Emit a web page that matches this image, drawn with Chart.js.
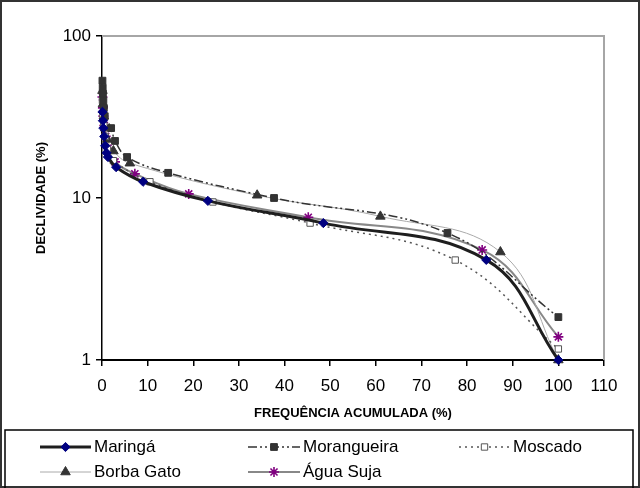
<!DOCTYPE html>
<html>
<head>
<meta charset="utf-8">
<script src="https://cdn.jsdelivr.net/npm/chart.js@4/dist/chart.umd.min.js"></script>
<style>
html,body{margin:0;padding:0;background:#fff;}
#wrap{width:640px;height:488px;position:relative;}
</style>
</head>
<body>
<div id="wrap"><canvas id="c" width="640" height="488"></canvas></div>
<script>
// ---- data ----
const seriesNames = ['Maringá', 'Morangueira', 'Moscado', 'Borba Gato', 'Água Suja'];
const xTickValues = [0, 10, 20, 30, 40, 50, 60, 70, 80, 90, 100, 110];
const yTickValues = [1, 10, 100];
const xAxisTitle = 'FREQUÊNCIA ACUMULADA (%)';
const yAxisTitle = 'DECLIVIDADE (%)';

const maringaX = [0.1, 0.2, 0.3, 0.5, 0.7, 1.0, 1.3, 3.1, 9.0, 23.2, 48.5, 84.2, 100];
const maringaY = [34, 30, 27, 24, 21, 19, 17.9, 15.5, 12.6, 9.6, 7.0, 4.15, 1.0];

const morangueiraX = [0.1, 0.15, 0.2, 0.3, 0.4, 0.6, 2.0, 2.85, 5.5, 14.5, 37.7, 75.7, 100];
const morangueiraY = [53, 48, 44, 40, 36, 32, 27, 22.5, 17.9, 14.3, 10.0, 6.08, 1.84];

const moscadoX = [0.1, 0.2, 0.4, 0.7, 1.2, 2.5, 10.5, 24.3, 45.6, 77.4, 100];
const moscadoY = [40, 33, 28, 24, 20, 17, 12.6, 9.45, 7.0, 4.14, 1.17];

const borbaX = [0.1, 0.2, 0.4, 0.7, 1.2, 2.5, 6.1, 34, 61, 87.3, 100];
const borbaY = [46, 38, 32, 27, 23, 19.5, 16.4, 10.4, 7.7, 4.64, 1.0];

const aguaX = [0.1, 0.2, 0.3, 0.5, 0.8, 1.3, 2.85, 7.2, 19, 45.2, 83.3, 100];
const aguaY = [42, 36, 32, 28, 24, 20.3, 16.7, 14.1, 10.6, 7.6, 4.78, 1.39];

function pts(xs, ys) { return xs.map((x, i) => ({ x: x, y: ys[i] })); }

// ---- styles ----
const FONT = '"Liberation Sans", Arial, sans-serif';
const styles = [
  { line: '#1e1e1e', width: 3, dash: [], marker: 'rectRot', r: 4.6, fill: '#000080', stroke: '#000080', bw: 1 },
  { line: '#333333', width: 1.5, dash: [9, 3, 2, 3, 2, 3], marker: 'rect', r: 4.8, fill: '#333333', stroke: '#333333', bw: 1 },
  { line: '#555555', width: 1.5, dash: [2, 4], marker: 'rect', r: 4.5, fill: '#ffffff', stroke: '#555555', bw: 1 },
  { line: '#aaaaaa', width: 1, dash: [], marker: 'triangle', r: 5.5, fill: '#333333', stroke: '#333333', bw: 1 },
  { line: '#888888', width: 2, dash: [], marker: 'star', r: 5, fill: '#800080', stroke: '#800080', bw: 1.6 }
];
const seriesData = [pts(maringaX, maringaY), pts(morangueiraX, morangueiraY), pts(moscadoX, moscadoY), pts(borbaX, borbaY), pts(aguaX, aguaY)];

const datasets = seriesNames.map((name, i) => ({
  label: name,
  data: seriesData[i],
  borderColor: styles[i].line,
  borderWidth: styles[i].width,
  borderDash: styles[i].dash,
  pointStyle: styles[i].marker,
  pointRadius: styles[i].r,
  pointBackgroundColor: styles[i].fill,
  pointBorderColor: styles[i].stroke,
  pointBorderWidth: styles[i].bw,
  tension: 0.4,
  fill: false,
  clip: false
}));

// ---- custom legend + frame ----
function drawMarker(ctx, st, x, y) {
  ctx.save();
  ctx.setLineDash([]);
  ctx.fillStyle = st.fill;
  ctx.strokeStyle = st.stroke;
  ctx.lineWidth = st.bw;
  const r = st.r;
  ctx.beginPath();
  if (st.marker === 'rectRot') {
    ctx.moveTo(x, y - r); ctx.lineTo(x + r, y); ctx.lineTo(x, y + r); ctx.lineTo(x - r, y); ctx.closePath();
    ctx.fill(); ctx.stroke();
  } else if (st.marker === 'rect') {
    const s = r * Math.SQRT1_2;
    ctx.rect(x - s, y - s, 2 * s, 2 * s); ctx.fill(); ctx.stroke();
  } else if (st.marker === 'triangle') {
    const h = r * 1.5, w = r * Math.sqrt(3) / 2;
    ctx.moveTo(x, y - r); ctx.lineTo(x + w, y + h - r); ctx.lineTo(x - w, y + h - r); ctx.closePath();
    ctx.fill(); ctx.stroke();
  } else if (st.marker === 'star') {
    const d = r * Math.SQRT1_2;
    ctx.moveTo(x - r, y); ctx.lineTo(x + r, y);
    ctx.moveTo(x, y - r); ctx.lineTo(x, y + r);
    ctx.moveTo(x - d, y - d); ctx.lineTo(x + d, y + d);
    ctx.moveTo(x - d, y + d); ctx.lineTo(x + d, y - d);
    ctx.stroke();
  }
  ctx.restore();
}

const decor = {
  id: 'decor',
  beforeDatasetsDraw(chart) {
    const { ctx, chartArea: a } = chart;
    ctx.save();
    ctx.strokeStyle = '#a6a6a6';
    ctx.lineWidth = 2;
    ctx.beginPath();
    ctx.moveTo(a.left, a.top); ctx.lineTo(a.right, a.top); ctx.lineTo(a.right, a.bottom);
    ctx.stroke();
    ctx.restore();
  },
  afterDraw(chart) {
    const ctx = chart.ctx;
    ctx.save();
    ctx.strokeStyle = '#333';
    ctx.lineWidth = 2;
    ctx.strokeRect(1, 1, 638, 486);
    ctx.lineWidth = 1.5;
    ctx.strokeStyle = '#000';
    ctx.strokeRect(5, 430, 628, 62);
    const slots = [
      { x0: 40, x1: 91, y: 447 },
      { x0: 248, x1: 300, y: 447 },
      { x0: 459, x1: 510, y: 447 },
      { x0: 40, x1: 91, y: 472 },
      { x0: 248, x1: 300, y: 472 }
    ];
    ctx.font = '17px ' + FONT;
    ctx.textBaseline = 'middle';
    ctx.textAlign = 'left';
    slots.forEach((s, i) => {
      const st = styles[i];
      ctx.save();
      ctx.strokeStyle = st.line;
      ctx.lineWidth = st.width;
      ctx.setLineDash(st.dash);
      ctx.beginPath(); ctx.moveTo(s.x0, s.y); ctx.lineTo(s.x1, s.y); ctx.stroke();
      ctx.restore();
      drawMarker(ctx, st, (s.x0 + s.x1) / 2, s.y);
      ctx.fillStyle = '#000';
      ctx.fillText(seriesNames[i], s.x1 + 3, s.y);
    });
    ctx.restore();
  }
};

new Chart(document.getElementById('c'), {
  type: 'line',
  data: { datasets: datasets },
  plugins: [decor],
  options: {
    responsive: false,
    animation: false,
    devicePixelRatio: 1,
    layout: { padding: { left: 0, top: 36, right: 36, bottom: 0 } },
    plugins: { legend: { display: false }, tooltip: { enabled: false } },
    scales: {
      x: {
        type: 'linear', min: 0, max: 110,
        afterBuildTicks: s => { s.ticks = xTickValues.map(v => ({ value: v })); },
        afterFit: s => { s.height = 128; },
        ticks: { color: '#000', font: { family: FONT, size: 17 }, padding: 10, autoSkip: false, maxRotation: 0 },
        grid: { drawOnChartArea: false, drawTicks: true, tickLength: 6, color: '#000', lineWidth: 1.5 },
        border: { display: true, color: '#000', width: 2 },
        title: { display: true, text: xAxisTitle, color: '#000', font: { family: FONT, size: 13, weight: 'bold' }, padding: { top: 0, bottom: 67 } }
      },
      y: {
        type: 'logarithmic', min: 1, max: 100,
        afterBuildTicks: s => { s.ticks = yTickValues.map(v => ({ value: v })); },
        afterFit: s => { s.width = 102; },
        ticks: { color: '#000', font: { family: FONT, size: 17 }, padding: 5, autoSkip: false, callback: v => String(v) },
        grid: { drawOnChartArea: false, drawTicks: true, tickLength: 6, color: '#000', lineWidth: 1.5 },
        border: { display: true, color: '#000', width: 1.5 },
        title: { display: true, text: yAxisTitle, color: '#000', font: { family: FONT, size: 13, weight: 'bold' }, padding: { top: 34, bottom: 0 } }
      }
    }
  }
});
</script>
</body>
</html>
